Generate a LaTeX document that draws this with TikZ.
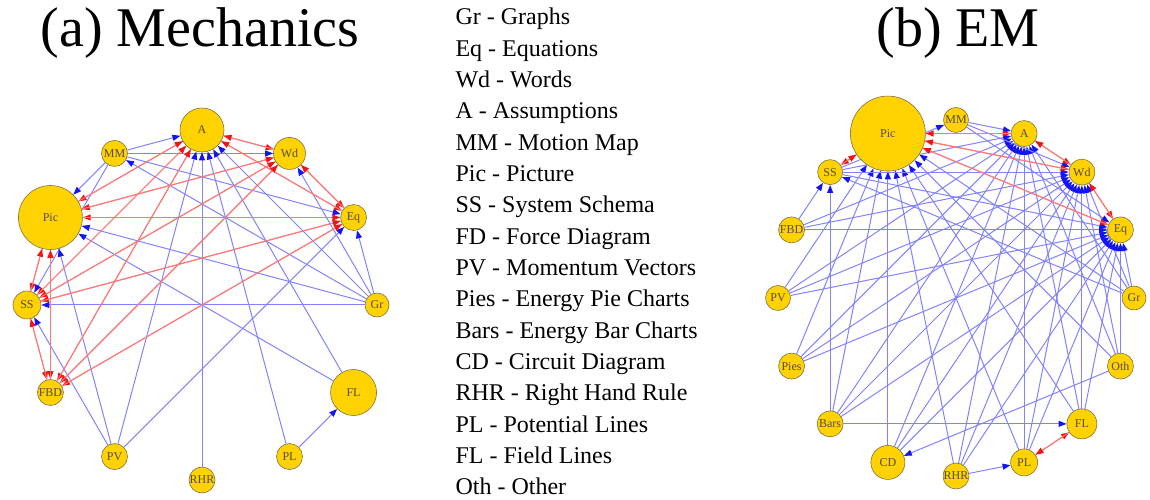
\documentclass[tikz,border=0pt]{standalone}
\usepackage{fontspec}
\setmainfont{Liberation Serif}
\newfontfamily\timesfont{Liberation Serif}
\usetikzlibrary{arrows.meta,backgrounds}
\definecolor{nodegold}{RGB}{255,210,0}
\definecolor{nodeedge}{RGB}{125,115,70}
\definecolor{labelgray}{RGB}{85,75,70}
\definecolor{lineblue}{RGB}{130,130,255}
\definecolor{tipblue}{RGB}{20,20,240}
\definecolor{linered}{RGB}{255,120,120}
\definecolor{tipred}{RGB}{240,20,20}
\begin{document}
\begin{tikzpicture}[x=1pt, y=1pt,
    vert/.style={circle, fill=nodegold, draw=nodeedge, line width=0.6pt,
      inner sep=0pt, font=\timesfont\fontsize{12}{12}\selectfont, text=labelgray},
    bedge/.style={draw=lineblue, line width=1pt,
      -{Triangle[length=8pt,width=6pt,color=tipblue]}},
    redge/.style={draw=linered, line width=1pt,
      -{Triangle[length=8pt,width=6pt,color=tipred]}}]
    \useasboundingbox (0,0) rectangle (1150,500);
    % titles
    \node[anchor=base, font=\timesfont\fontsize{56}{56}\selectfont] (titleM) at (200,453) {(a) Mechanics};
    \node[anchor=base, font=\timesfont\fontsize{56}{56}\selectfont] (titleE) at (958,453) {(b) EM};
    % legend
    \foreach \txt [count=\i from 0] in {Gr - Graphs, Eq - Equations, Wd - Words,
        A - Assumptions, MM - Motion Map, Pic - Picture, SS - System Schema,
        FD - Force Diagram, PV - Momentum Vectors, Pies - Energy Pie Charts,
        Bars - Energy Bar Charts, CD - Circuit Diagram, RHR - Right Hand Rule,
        PL - Potential Lines, FL - Field Lines, Oth - Other}
      \node[anchor=base west, font=\timesfont\fontsize{24}{24}\selectfont] (key\i) at (452,{475-31.33*\i}) {\txt};

    % (a) Mechanics
    \begin{scope}[shift={(202,195)}]
      \foreach \n/\a/\sz in {Gr/0/24, Eq/30/26, Wd/60/32, A/90/44, MM/120/26,
          Pic/150/64, SS/180/28, FBD/210/26, PV/240/26, RHR/270/26, PL/300/26, FL/330/46}
        \node[vert, minimum size=\sz pt] (m\n) at (\a:175) {\n};
    \end{scope}
    \begin{scope}[on background layer]
      \foreach \src/\dst in {MM/A, MM/Wd, MM/Pic, MM/Eq, MM/SS, Gr/MM, Gr/Pic, Gr/SS,
          Gr/Eq, Gr/Wd, Gr/A, PV/SS, PV/Pic, PV/A, PV/Eq, RHR/A, PL/A, PL/FL, FL/A, FL/Pic}
        \draw[bedge] (m\src) -- (m\dst);
      \foreach \src in {A,Wd,Eq,Pic,SS,FBD}
        \foreach \dst in {A,Wd,Eq,Pic,SS,FBD}
          {\ifx\src\dst\else\draw[redge] (m\src) -- (m\dst);\fi}
    \end{scope}

    % (b) EM
    \begin{scope}[shift={(956,202)}]
      \foreach \n/\a/\sz in {Gr/0/24, Eq/22.5/26, Wd/45/26, A/67.5/26, MM/90/25,
          Pic/112.5/75, SS/135/25, FBD/157.5/26, PV/180/25, Pies/202.5/26, Bars/225/26,
          CD/247.5/34, RHR/270/26, PL/292.5/27, FL/315/30, Oth/337.5/26}
        \node[vert, minimum size=\sz pt] (e\n) at (\a:178) {\n};
    \end{scope}
    \begin{scope}[on background layer]
      \foreach \src in {PV,Pies,Bars,CD,RHR,PL,FL,Oth,Gr}
        \draw[bedge] (e\src) -- (ePic);
      \foreach \dst in {A,Wd,Eq}
        \foreach \src in {SS,FBD,PV,Pies,Bars,CD,RHR,PL,FL,Oth,Gr,MM}
          {\ifx\src\dst\else\draw[bedge] (e\src) -- (e\dst);\fi}
      \foreach \src/\dst in {FBD/SS, Bars/SS, Gr/SS, SS/MM, Oth/CD, Bars/FL, RHR/PL}
        \draw[bedge] (e\src) -- (e\dst);
      \foreach \src/\dst in {Pic/A, A/Pic, Pic/Wd, Wd/Pic, Pic/Eq, Eq/Pic, A/Wd, Wd/A,
          Wd/Eq, Eq/Wd, Pic/SS, SS/Pic, PL/FL, FL/PL}
        \draw[redge] (e\src) -- (e\dst);
    \end{scope}
\end{tikzpicture}
\end{document}
